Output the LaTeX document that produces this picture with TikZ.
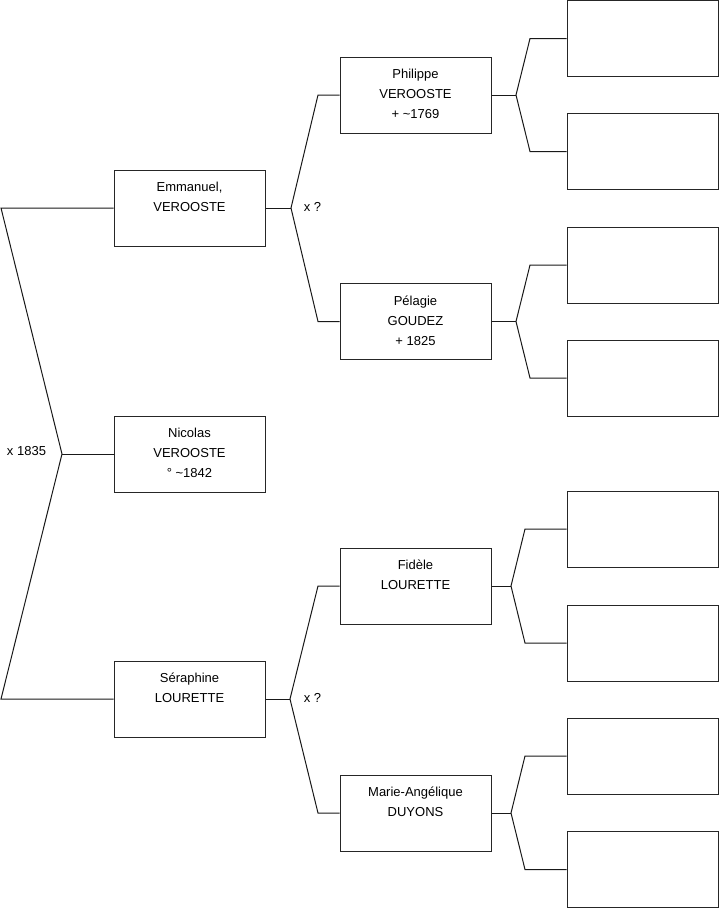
\documentclass[tikz,border=0pt]{standalone}
\usepackage{fontspec}
\setmainfont{Liberation Sans}
\begin{document}
\begin{tikzpicture}[x=1pt,y=-1pt,
  personbox/.style={draw=black!85,line width=1pt,minimum width=151pt,minimum height=76pt,inner sep=0pt},
  boxtext/.style={anchor=north,inner sep=0pt,align=center,font=\fontsize{13}{20}\selectfont},
  lbl/.style={inner sep=0pt,font=\fontsize{13}{16}\selectfont},
  conn/.style={draw=black!90,line width=1pt}]
\useasboundingbox (0,0) rectangle (719,908);
% boxes
\node[personbox] (e) at (189.5,208) {};
\node[personbox] (n) at (189.5,454) {};
\node[personbox] (s) at (189.5,699) {};
\node[personbox] (p) at (415.5,95) {};
\node[personbox] (g) at (415.5,321.5) {};
\node[personbox] (f) at (415.5,586) {};
\node[personbox] (m) at (415.5,813) {};
\node[personbox] (r1) at (642.5,38.5) {};
\node[personbox] (r2) at (642.5,151.5) {};
\node[personbox] (r3) at (642.5,265) {};
\node[personbox] (r4) at (642.5,378) {};
\node[personbox] (r5) at (642.5,529) {};
\node[personbox] (r6) at (642.5,643) {};
\node[personbox] (r7) at (642.5,756) {};
\node[personbox] (r8) at (642.5,869.5) {};
% texts
\node[boxtext] at ([yshift=-12.3pt]e.north) {Emmanuel,\\VEROOSTE};
\node[boxtext] at ([yshift=-12.3pt]n.north) {Nicolas\\VEROOSTE\\° \textasciitilde 1842};
\node[boxtext] at ([yshift=-12.3pt]s.north) {Séraphine\\LOURETTE};
\node[boxtext] at ([yshift=-12.3pt]p.north) {Philippe\\VEROOSTE\\+ \textasciitilde 1769};
\node[boxtext] at ([yshift=-12.3pt]g.north) {Pélagie\\GOUDEZ\\+ 1825};
\node[boxtext] at ([yshift=-12.3pt]f.north) {Fidèle\\LOURETTE};
\node[boxtext] at ([yshift=-12.3pt]m.north) {Marie-Angélique\\DUYONS};
% fork points
\coordinate (rf) at (62,454);
\coordinate (rt) at (1,208);
\coordinate (rb) at (1,699);
\coordinate (ef) at (291,208);
\coordinate (et) at (318,95);
\coordinate (eb) at (318,321.5);
\coordinate (sf) at (290,699);
\coordinate (st) at (318,586);
\coordinate (sb) at (318,813);
\coordinate (pf) at (516,95);
\coordinate (pt) at (530,38.5);
\coordinate (pb) at (530,151.5);
\coordinate (gf) at (516,321.5);
\coordinate (gt) at (530,265);
\coordinate (gb) at (530,378);
\coordinate (ff) at (511,586);
\coordinate (ft) at (525,529);
\coordinate (fb) at (525,643);
\coordinate (mf) at (511,813);
\coordinate (mt) at (525,756);
\coordinate (mb) at (525,869.5);
% connectors
\draw[conn] (e.west) -- (rt) -- (rf) -- (rb) -- (s.west);
\draw[conn] (rf) -- (n.west);
\draw[conn] (e.east) -- (ef);
\draw[conn] (p.west) -- (et) -- (ef) -- (eb) -- (g.west);
\draw[conn] (s.east) -- (sf);
\draw[conn] (f.west) -- (st) -- (sf) -- (sb) -- (m.west);
\draw[conn] (p.east) -- (pf);
\draw[conn] (r1.west) -- (pt) -- (pf) -- (pb) -- (r2.west);
\draw[conn] (g.east) -- (gf);
\draw[conn] (r3.west) -- (gt) -- (gf) -- (gb) -- (r4.west);
\draw[conn] (f.east) -- (ff);
\draw[conn] (r5.west) -- (ft) -- (ff) -- (fb) -- (r6.west);
\draw[conn] (m.east) -- (mf);
\draw[conn] (r7.west) -- (mt) -- (mf) -- (mb) -- (r8.west);
% labels
\node[lbl] (l1) at (26.5,451) {x 1835};
\node[lbl] (l2) at (312.5,207) {x ?};
\node[lbl] (l3) at (312.5,698) {x ?};
\end{tikzpicture}
\end{document}
